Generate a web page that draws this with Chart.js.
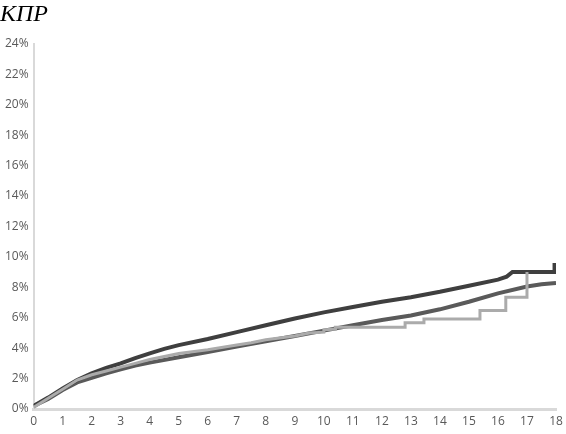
<!DOCTYPE html>
<html><head><meta charset="utf-8">
<script src="https://cdn.jsdelivr.net/npm/chart.js@4"></script>
<style>html,body{margin:0;padding:0;background:#fff}#w{width:566px;height:434px}</style>
</head><body><div id="w"><canvas id="c"></canvas></div>
<script>
const titleText = "КПР";
// Light grey series (stepped curve; repeated x = vertical step)
const lightX = [0,0.5,1,1.5,2,2.5,3,3.5,4,5,6,7,7.5,8,9,9.5,10,10,10.4,10.4,12.8,12.8,13.45,13.45,15.38,15.38,16.27,16.27,17,17];
const lightY = [0.1,0.7,1.3,1.9,2.25,2.5,2.75,3.0,3.25,3.65,3.9,4.2,4.35,4.55,4.8,5.0,5.05,5.2,5.25,5.38,5.38,5.66,5.66,5.92,5.92,6.47,6.47,7.34,7.34,9.0];
// Darkest series (upper curve)
const topX = [0,0.5,1,1.5,2,2.5,3,3.5,4,4.5,5,6,7,8,9,10,11,12,13,14,15,16,16.3,16.5,17.95,17.95];
const topY = [0.2,0.75,1.35,1.9,2.35,2.7,3.0,3.35,3.65,3.95,4.2,4.6,5.05,5.5,5.95,6.35,6.7,7.05,7.35,7.7,8.1,8.5,8.7,9.0,9.0,9.6];
// Dark grey series (lower curve)
const lowX = [0,0.5,1,1.5,2,2.5,3,3.5,4,5,6,7,8,9,10,11,12,13,14,15,16,17,17.5,18];
const lowY = [0.2,0.65,1.25,1.75,2.05,2.35,2.6,2.85,3.05,3.4,3.75,4.1,4.45,4.8,5.15,5.5,5.85,6.15,6.55,7.05,7.6,8.05,8.2,8.28];
const xTicks = [0,1,2,3,4,5,6,7,8,9,10,11,12,13,14,15,16,17,18];
const yMax = 24, yStep = 2;

const pts = (xs, ys) => xs.map((x, i) => ({x: x, y: ys[i]}));
new Chart(document.getElementById('c'), {
  type: 'line',
  data: {
    datasets: [
      {data: pts(lightX, lightY), borderColor: '#ababab', borderWidth: 3, pointRadius: 0, tension: 0},
      {data: pts(topX, topY), borderColor: '#3f3f3f', borderWidth: 4, pointRadius: 0, tension: 0},
      {data: pts(lowX, lowY), borderColor: '#5a5a5a', borderWidth: 4, pointRadius: 0, tension: 0}
    ]
  },
  options: {
    responsive: true, maintainAspectRatio: false, animation: false,
    layout: {padding: {left: 0, right: 0, top: 0, bottom: 0}},
    plugins: {
      legend: {display: false}, tooltip: {enabled: false},
      title: {display: true, text: titleText, align: 'start', color: '#000',
        font: {family: '"Liberation Serif", "Times New Roman", serif', size: 24, style: 'italic', weight: 'normal'},
        padding: {top: 0, bottom: 15}}
    },
    scales: {
      x: {type: 'linear', min: 0, max: 18,
        afterBuildTicks: s => { s.ticks = xTicks.map(v => ({value: v})); },
        afterFit: s => { s.paddingRight = 10; },
        grid: {display: false, drawTicks: false},
        border: {color: '#d9d9d9', width: 3},
        ticks: {color: '#595959', font: {family: '"Open Sans", sans-serif', size: 12, lineHeight: 1.0}, padding: 6.5, maxRotation: 0, autoSkip: false}},
      y: {min: 0, max: yMax,
        grid: {display: false, drawTicks: false},
        border: {color: '#d9d9d9', width: 2},
        ticks: {stepSize: yStep, color: '#595959', font: {family: '"Open Sans", sans-serif', size: 12}, padding: 5, callback: v => v + '%'}}
    }
  }
});
</script></body></html>
